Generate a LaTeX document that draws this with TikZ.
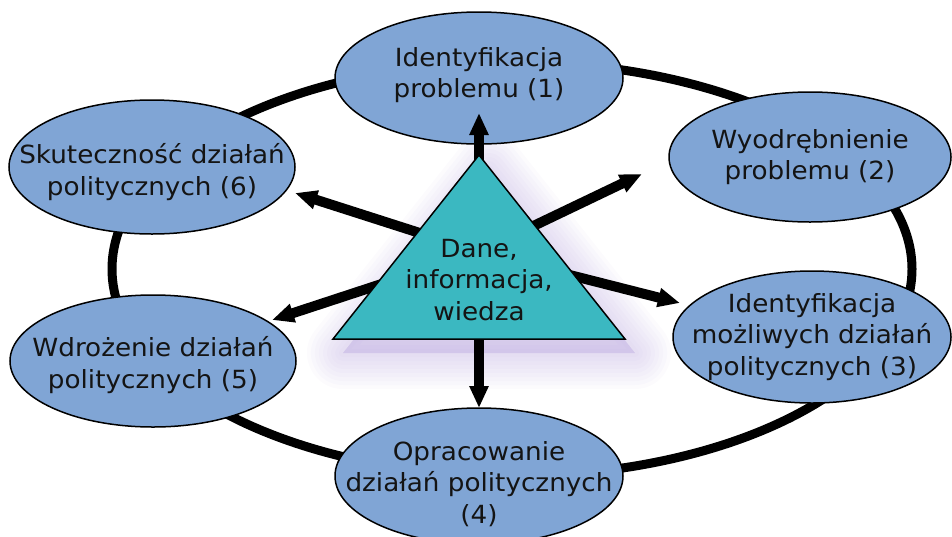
\documentclass[tikz,border=0pt]{standalone}
\usepackage{fontspec}
\setmainfont{DejaVu Sans}[FakeStretch=1.05]
\usetikzlibrary{shapes.geometric,arrows.meta}
\definecolor{ellfill}{RGB}{128,165,213}
\definecolor{trifill}{RGB}{59,184,193}
\definecolor{glowc}{RGB}{160,135,210}
\definecolor{txt}{RGB}{20,20,20}
\begin{document}
\begin{tikzpicture}[x=1pt,y=-1pt,
  ell/.style={ellipse,draw=black,line width=1.5pt,fill=ellfill,inner sep=0pt},
  lbl/.style={align=center,text=txt,font=\fontsize{25}{31.5}\selectfont,inner sep=0pt},
  ring/.style={line width=9pt,black},
  arr/.style={line width=10pt,black,-{Triangle[length=22pt,width=18pt]}},
  tri/.style={fill=trifill,draw=black,line width=1.5pt,line join=miter}]
\useasboundingbox (0,0) rectangle (952,536);
% ring
\draw[ring] (512,269) ellipse [x radius=400pt, y radius=207pt];
% glow
\coordinate (ta) at (479,155);
\coordinate (tl) at (333,339);
\coordinate (tr) at (625,339);
\foreach \w in {72,64,56,48,40,32,24,16,8}{
  \fill[glowc,opacity=0.035,line width=\w pt,line join=round,draw=glowc]
    ([shift={(10,14)}]ta) -- ([shift={(10,14)}]tl) -- ([shift={(10,14)}]tr) -- cycle;
}
% ellipses
\node[ell,minimum width=288pt,minimum height=132pt,
  label={[lbl,yshift=3pt]center:Identyfikacja\\problemu (1)}] (e1) at (479,78) {};
\node[ell,minimum width=282pt,minimum height=130pt,
  label={[lbl]center:Wyodrębnienie\\problemu (2)}] (e2) at (810,157) {};
\node[ell,minimum width=278pt,minimum height=132pt,
  label={[lbl]center:Identyfikacja\\możliwych działań\\politycznych (3)}] (e3) at (812,337) {};
\node[ell,minimum width=288pt,minimum height=136pt,
  label={[lbl,yshift=-8pt]center:Opracowanie\\działań politycznych\\(4)}] (e4) at (479,476) {};
\node[ell,minimum width=286pt,minimum height=132pt,
  label={[lbl,yshift=-4pt]center:Wdrożenie działań\\politycznych (5)}] (e5) at (153,361) {};
\node[ell,minimum width=286pt,minimum height=134pt,
  label={[lbl,yshift=-5pt]center:Skuteczność działań\\politycznych (6)}] (e6) at (152,167) {};
% arrows
\coordinate (hub) at (479,252);
\coordinate (t1) at (479,113);
\coordinate (t2) at (642,174);
\coordinate (t3) at (680,303);
\coordinate (t4) at (479,408);
\coordinate (t5) at (272,320);
\coordinate (t6) at (295,193);
\foreach \t in {t1,t2,t3,t4,t5,t6}{
  \draw[arr] (hub) -- (\t);
}
% triangle
\draw[tri] (ta) -- (tl) -- (tr) -- cycle;
\node[lbl] (data) at (479,280) {Dane,\\informacja,\\wiedza};
\end{tikzpicture}
\end{document}
